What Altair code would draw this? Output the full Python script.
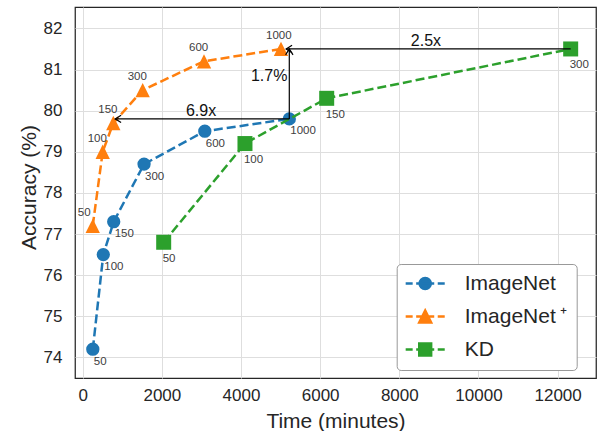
import altair as alt
import pandas as pd

FONT = "Liberation Sans"

# ---------------- data ----------------
series_names = ["ImageNet", "ImageNet\u2009\u207a", "KD"]

in_time = [255, 520, 783, 1550, 3085, 5220]
in_acc = [74.2, 76.5, 77.3, 78.7, 79.5, 79.8]
in_lbl = ["50", "100", "150", "300", "600", "1000"]

inp_time = [253, 505, 773, 1515, 3065, 5010]
inp_acc = [77.2, 79.0, 79.7, 80.5, 81.2, 81.5]
inp_lbl = ["50", "100", "150", "300", "600", "1000"]

kd_time = [2046, 4100, 6165, 12330]
kd_acc = [76.8, 79.2, 80.3, 81.5]
kd_lbl = ["50", "100", "150", "300"]

arrow_x = [5220, 5220, 12330]
arrow_y = [79.8, 79.8, 81.5]
arrow_x2 = [820, 5220, 5140]
arrow_y2 = [79.8, 81.5, 81.5]

note_text = ["6.9x", "1.7%", "2.5x"]
note_x = [2990, 4712, 8674]
note_y = [80.0, 80.84, 81.70]

x_ticks = [0, 2000, 4000, 6000, 8000, 10000, 12000]
y_ticks = [74, 75, 76, 77, 78, 79, 80, 81, 82]

# ---------------- styles ----------------
colors = ["#1f77b4", "#ff7f0e", "#2ca02c"]
tri = "M0,-1L1,1L-1,1Z"
marker_shapes = ["circle", tri, "square"]
marker_sizes = [177, 205, 225]
label_dx = [1, -15, -1]
label_dy = [12.5, -13, 16.5]

leg_line = "M-2.79,0L-1.79,0M-1.29,0L1.29,0M1.79,0L2.79,0"
leg_paths = [
    leg_line + "M0.8,0A0.8,0.8,0,1,1,-0.8,0A0.8,0.8,0,1,1,0.8,0Z",
    leg_line + "M0,-0.85L0.85,0.85L-0.85,0.85Z",
    leg_line + "M-0.85,-0.85L0.85,-0.85L0.85,0.85L-0.85,0.85Z",
]

xscale = alt.Scale(domain=[-195, 12970], nice=False, zero=False)
yscale = alt.Scale(domain=[73.5, 82.52], nice=False, zero=False)

x_axis = alt.Axis(
    values=x_ticks, format="d", title="Time (minutes)",
    titleX=260.5, titleY=49, titleBaseline="alphabetic", titleAlign="center",
    labelPadding=9,
)
y_axis = alt.Axis(
    values=y_ticks, format="d", title="Accuracy (%)",
    titleX=-40, titleY=180, titleBaseline="alphabetic", titleAlign="center",
    titleAngle=270, labelPadding=13,
)


def X(field):
    return alt.X(field, type="quantitative", scale=xscale, axis=x_axis)


def Y(field):
    return alt.Y(field, type="quantitative", scale=yscale, axis=y_axis)


all_series = [
    (in_time, in_acc, in_lbl),
    (inp_time, inp_acc, inp_lbl),
    (kd_time, kd_acc, kd_lbl),
]

layers = []
label_layers = []
for i, (t, a, l) in enumerate(all_series):
    df = pd.DataFrame({"time": t, "acc": a, "label": l, "series": series_names[i]})
    base = alt.Chart(df)
    layers.append(
        base.mark_line(color=colors[i], strokeWidth=2.5, strokeDash=[9, 4])
        .encode(x=X("time"), y=Y("acc"))
    )
    layers.append(
        base.mark_point(
            shape=marker_shapes[i], size=marker_sizes[i], filled=True,
            color=colors[i], opacity=1,
        ).encode(x=X("time"), y=Y("acc"))
    )
    label_layers.append(
        base.mark_text(
            align="left", baseline="middle", dx=label_dx[i], dy=label_dy[i],
            fontSize=11.5, font=FONT, fill="#404040",
        ).encode(x=X("time"), y=Y("acc"), text="label:N")
    )

arrows = pd.DataFrame({"x": arrow_x, "y": arrow_y, "x2": arrow_x2, "y2": arrow_y2})
arrows["angle"] = [0 if yy == yy2 else 90 for yy, yy2 in zip(arrow_y, arrow_y2)]

rules = alt.Chart(arrows).mark_rule(color="black", strokeWidth=1.2).encode(
    x=X("x"), y=Y("y"), x2="x2:Q", y2="y2:Q"
)
heads = alt.Chart(arrows).mark_point(
    shape="M1.6,-1L0,0L1.6,1", filled=False, size=55, strokeWidth=1.2,
    color="black", opacity=1,
).encode(x=X("x2"), y=Y("y2"), angle=alt.Angle("angle:Q", scale=None))

notes = pd.DataFrame({"text": note_text, "x": note_x, "y": note_y})
note_layer = alt.Chart(notes).mark_text(
    align="center", baseline="middle", fontSize=16, font=FONT, color="#111111"
).encode(x=X("x"), y=Y("y"), text="text:N")

legend_obj = alt.Legend(
    title=None, orient="none", legendX=321.7, legendY=257,
    padding=9, symbolOffset=9, labelOffset=29, rowPadding=10,
    labelFontSize=21, labelFont=FONT, labelColor="#262626", labelLimit=300,
    labelExpr="datum.label + '\u2002'",
    fillColor="white", strokeColor="#999999", cornerRadius=4,
    symbolSize=196, symbolStrokeWidth=2.5,
)
leg_df = pd.DataFrame({"series": series_names, "time": [0, 0, 0], "acc": [0, 0, 0]})
legend_layer = (
    alt.Chart(leg_df)
    .transform_filter("datum.acc > 1000")
    .mark_point(size=196, strokeWidth=2.5, opacity=1)
    .encode(
        x=X("time"), y=Y("acc"),
        fill=alt.Fill("series:N", scale=alt.Scale(domain=series_names, range=colors), legend=legend_obj),
        stroke=alt.Stroke("series:N", scale=alt.Scale(domain=series_names, range=colors), legend=legend_obj),
        shape=alt.Shape("series:N", scale=alt.Scale(domain=series_names, range=leg_paths), legend=legend_obj),
    )
)

chart = (
    alt.layer(*layers, rules, heads, note_layer, *label_layers, legend_layer)
    .properties(
        width=521, height=371,
        padding={"left": 75, "top": 7, "right": 5, "bottom": 53},
        autosize=alt.AutoSizeParams(type="none"),
        background="white",
    )
    .configure_view(stroke="#262626", strokeWidth=1.25)
    .configure_axis(
        labelFont=FONT, labelFontSize=17, labelColor="#262626",
        titleFont=FONT, titleFontSize=21, titleColor="#262626", titleFontWeight="normal",
        ticks=False, domain=False, grid=True, gridColor="#dedede", gridWidth=1,
    )
)

chart.save("out.html", embed_options={"renderer": "svg", "actions": False})
